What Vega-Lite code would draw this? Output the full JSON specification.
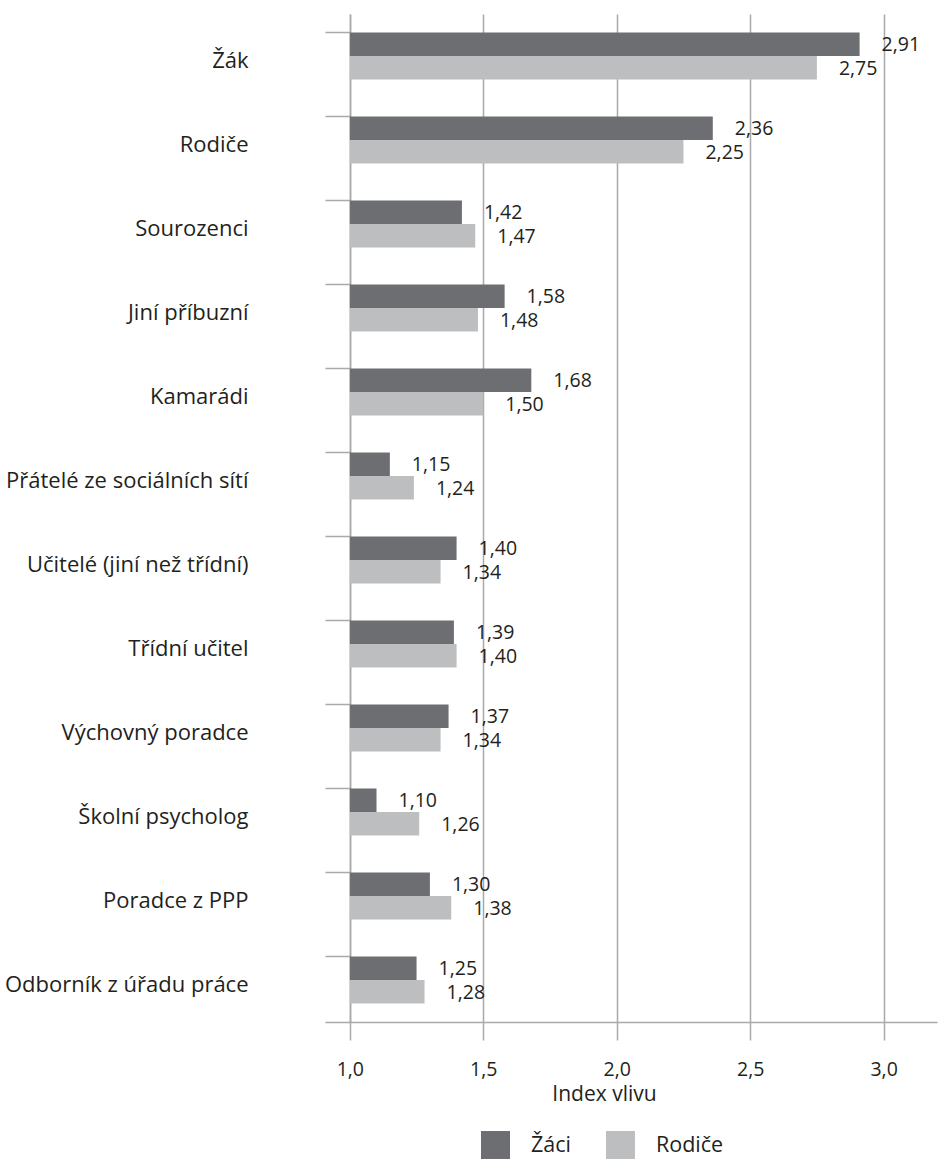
{
  "$schema": "https://vega.github.io/schema/vega-lite/v6.json",
  "autosize": "none",
  "padding": {"left": 325, "top": 14, "right": 2, "bottom": 137},
  "width": 612,
  "height": 1008,
  "background": "white",
  "config": {
    "font": "Open Sans",
    "view": {"stroke": null},
    "locale": {"number": {"decimal": ",", "thousands": " ", "grouping": [3], "currency": ["", " Kč"]}},
    "text": {"font": "Open Sans", "color": "#231f20"}
  },
  "data": {
    "values": [
      {"kategorie": "Žák", "skupina": "Žáci", "index": 2.91},
      {"kategorie": "Žák", "skupina": "Rodiče", "index": 2.75},
      {"kategorie": "Rodiče", "skupina": "Žáci", "index": 2.36},
      {"kategorie": "Rodiče", "skupina": "Rodiče", "index": 2.25},
      {"kategorie": "Sourozenci", "skupina": "Žáci", "index": 1.42},
      {"kategorie": "Sourozenci", "skupina": "Rodiče", "index": 1.47},
      {"kategorie": "Jiní příbuzní", "skupina": "Žáci", "index": 1.58},
      {"kategorie": "Jiní příbuzní", "skupina": "Rodiče", "index": 1.48},
      {"kategorie": "Kamarádi", "skupina": "Žáci", "index": 1.68},
      {"kategorie": "Kamarádi", "skupina": "Rodiče", "index": 1.50},
      {"kategorie": "Přátelé ze sociálních sítí", "skupina": "Žáci", "index": 1.15},
      {"kategorie": "Přátelé ze sociálních sítí", "skupina": "Rodiče", "index": 1.24},
      {"kategorie": "Učitelé (jiní než třídní)", "skupina": "Žáci", "index": 1.40},
      {"kategorie": "Učitelé (jiní než třídní)", "skupina": "Rodiče", "index": 1.34},
      {"kategorie": "Třídní učitel", "skupina": "Žáci", "index": 1.39},
      {"kategorie": "Třídní učitel", "skupina": "Rodiče", "index": 1.40},
      {"kategorie": "Výchovný poradce", "skupina": "Žáci", "index": 1.37},
      {"kategorie": "Výchovný poradce", "skupina": "Rodiče", "index": 1.34},
      {"kategorie": "Školní psycholog", "skupina": "Žáci", "index": 1.10},
      {"kategorie": "Školní psycholog", "skupina": "Rodiče", "index": 1.26},
      {"kategorie": "Poradce z PPP", "skupina": "Žáci", "index": 1.30},
      {"kategorie": "Poradce z PPP", "skupina": "Rodiče", "index": 1.38},
      {"kategorie": "Odborník z úřadu práce", "skupina": "Žáci", "index": 1.25},
      {"kategorie": "Odborník z úřadu práce", "skupina": "Rodiče", "index": 1.28}
    ]
  },
  "encoding": {
    "y": {
      "field": "kategorie",
      "type": "nominal",
      "sort": null,
      "scale": {"paddingInner": 0.44, "paddingOuter": 0.22},
      "axis": {
        "title": null,
        "bandPosition": 0,
        "offset": -25,
        "tickSize": 25,
        "tickColor": "#a7a9ac",
        "tickWidth": 1.5,
        "domainColor": "#a7a9ac",
        "domainWidth": 1.5,
        "labelFontSize": 22,
        "labelColor": "#231f20",
        "labelPadding": 77,
        "labelOffset": 5,
        "labelFont": "Open Sans",
        "labelLimit": 400
      }
    },
    "yOffset": {
      "field": "skupina",
      "type": "nominal",
      "sort": ["Žáci", "Rodiče"],
      "scale": {"paddingInner": 0, "paddingOuter": 0}
    },
    "x": {
      "field": "index",
      "type": "quantitative",
      "scale": {"domain": [0.907, 3.2], "nice": false, "zero": false},
      "axis": {
        "values": [1, 1.5, 2, 2.5, 3],
        "format": ".1f",
        "title": "Index vlivu",
        "titleFontSize": 21,
        "titleFontWeight": "normal",
        "titleColor": "#231f20",
        "titleFont": "Open Sans",
        "titleX": 279,
        "titlePadding": 5,
        "grid": true,
        "gridColor": "#a7a9ac",
        "gridWidth": 1.5,
        "tickSize": 18,
        "tickColor": "#a7a9ac",
        "tickWidth": 1.5,
        "domainColor": "#a7a9ac",
        "domainWidth": 1.5,
        "labelFontSize": 19.5,
        "labelColor": "#231f20",
        "labelPadding": 20,
        "labelFont": "Open Sans"
      }
    }
  },
  "layer": [
    {
      "mark": {"type": "bar"},
      "encoding": {
        "x2": {"datum": 1},
        "color": {
          "field": "skupina",
          "type": "nominal",
          "sort": ["Žáci", "Rodiče"],
          "scale": {"domain": ["Žáci", "Rodiče"], "range": ["#6d6e71", "#bcbec0"]},
          "legend": {
            "title": null,
            "orient": "none",
            "direction": "horizontal",
            "legendX": 156,
            "legendY": 1117,
            "symbolType": "square",
            "symbolSize": 841,
            "symbolStrokeWidth": 0,
            "symbolOpacity": 1,
            "labelFontSize": 21.5,
            "labelColor": "#231f20",
            "labelFont": "Open Sans",
            "labelOffset": 21,
            "columnPadding": 35
          }
        }
      }
    },
    {
      "mark": {"type": "text", "align": "left", "baseline": "middle", "dx": 22, "dy": 1, "fontSize": 19.5},
      "encoding": {
        "text": {"field": "index", "type": "quantitative", "format": ".2f"}
      }
    }
  ]
}
